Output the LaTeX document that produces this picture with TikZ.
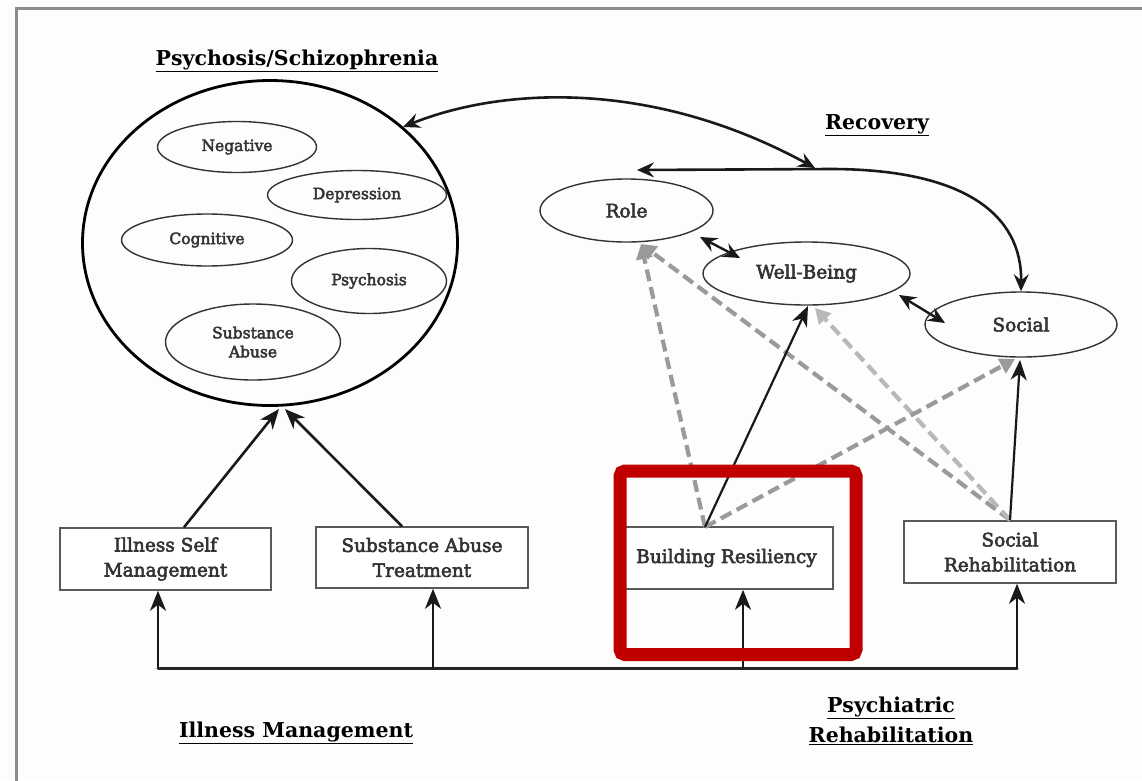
\documentclass[tikz,border=0pt]{standalone}
\usepackage{fontspec}
\setmainfont{DejaVu Serif}
\newfontfamily\labelfont[FakeBold=3]{DejaVu Serif}
\usetikzlibrary{arrows.meta,shapes.geometric,calc}

\definecolor{frame}{HTML}{8C8C8C}
\definecolor{ink}{HTML}{333333}
\definecolor{highlight}{HTML}{C00000}
\definecolor{dashmid}{HTML}{9A9A9A}
\definecolor{dashlight}{HTML}{B8B8B8}

\begin{document}
\begin{tikzpicture}[x=1pt,y=-1pt,
  oval/.style={ellipse,draw=black!80,line width=1.4pt,inner sep=0pt,
    text=ink,align=center,font=\labelfont\fontsize{18.5}{21}\selectfont},
  smalloval/.style={oval,font=\labelfont\fontsize{15.5}{19}\selectfont},
  box/.style={rectangle,draw=black!65,line width=1.5pt,fill=white,
    inner sep=0pt,text=ink,align=center,font=\labelfont\fontsize{18.5}{25}\selectfont},
  heading/.style={font=\bfseries\fontsize{20.5}{30}\selectfont,align=center},
  link/.style={draw=black!90,line width=2.6pt,-{Stealth[length=20pt,width=16pt,inset=6pt]}},
  twoway/.style={draw=black!90,line width=2.6pt,
    {Stealth[length=17pt,width=15pt,inset=6pt]}-{Stealth[length=17pt,width=15pt,inset=6pt]}},
  dlink/.style={line width=4.2pt,dash pattern=on 12pt off 6pt,
    -{Triangle[length=15pt,width=16pt]}},
]
% canvas and frame
\useasboundingbox (0,0) rectangle (1142,780);
\fill[color={rgb,255:red,253;green,253;blue,251}] (0,0) rectangle (1142,780);
\draw[frame,line width=3pt] (16,790) -- (16,8) -- (1150,8);

% illness cluster
\node[draw=black,ellipse,line width=2.8pt,minimum width=375pt,
  minimum height=325pt,inner sep=0pt] (psy) at (270,243) {};
\node[smalloval,minimum width=159pt,minimum height=51pt] (neg) at (237,147) {Negative};
\node[smalloval,minimum width=179pt,minimum height=49pt] (dep) at (357,195) {Depression};
\node[smalloval,minimum width=171pt,minimum height=52pt] (cog) at (207,240) {Cognitive};
\node[smalloval,minimum width=155pt,minimum height=65pt] (psyc) at (369,281) {Psychosis};
\node[smalloval,minimum width=175pt,minimum height=76pt] (sub) at (253,342) {Substance\\Abuse};

% recovery outcomes
\node[oval,minimum width=173pt,minimum height=63pt] (role) at (626.5,210.5) {Role};
\node[oval,minimum width=207pt,minimum height=63pt] (well) at (806.5,273.5) {Well-Being};
\node[oval,minimum width=192pt,minimum height=65pt] (soc) at (1021,324.5) {Social};

% interventions
\node[box,minimum width=211pt,minimum height=62pt] (ism) at (165.5,559) {Illness Self\\Management};
\node[box,minimum width=212pt,minimum height=61pt] (sat) at (422,557.5) {Substance Abuse\\Treatment};
\node[box,minimum width=213pt,minimum height=62pt] (br) at (726.5,558) {Building Resiliency};
\node[box,minimum width=212pt,minimum height=62pt] (sr) at (1010,552) {Social\\Rehabilitation};

% headings
\node[heading] (hpsy) at (297,61) {\underline{Psychosis/Schizophrenia}};
\node[heading] (hrec) at (877,125) {\underline{Recovery}};
\node[heading] (hill) at (296,733) {\underline{Illness Management}};
\node[heading] (hpr) at (891,721) {\underline{Psychiatric}\\\underline{Rehabilitation}};

% free ends of connectors
\coordinate (circ) at (403,127);
\coordinate (junc) at (815,168);
\coordinate (roleTip) at (637,170);
\coordinate (bend) at (830,169);
\coordinate (psyTipA) at (279,409);
\coordinate (psyTipB) at (285,409);
\coordinate (brTop) at (705,527);
\coordinate (srTop) at (1010,520);
\coordinate (roleLow) at (641,244);
\coordinate (wellLow) at (808,306);
\coordinate (wellLowB) at (815,308);
\coordinate (socLow) at (1015,359);
\coordinate (socLowB) at (1020,360);
\coordinate (b1) at (158,668);
\coordinate (b2) at (433,668);
\coordinate (b3) at (743,668);
\coordinate (b4) at (1017,668);

% recovery loop back to the illness
\draw[twoway] (circ) .. controls (500,88) and (650,78) .. (junc);
\draw[twoway] (roleTip) -- (bend) .. controls (965,169) and (1022,215) .. (soc.north);

% links between outcomes
\draw[twoway,line width=2.4pt] (700,237) -- (740,258);
\draw[twoway,line width=2.4pt] (899,295) -- (945,323);

% dashed influences
\draw[dlink,dashmid] (brTop) -- (roleLow);
\draw[dlink,dashmid] (srTop) -- (roleLow);
\draw[dlink,dashlight] (srTop) -- (wellLowB);
\draw[dlink,dashmid] (brTop) -- (socLow);

% solid influences
\draw[link,line width=2.2pt] (brTop) -- (wellLow);
\draw[link,line width=2.2pt] (srTop) -- (socLowB);
\draw[link] (ism.north -| 184,0) -- (psyTipA);
\draw[link] (sat.north -| 402,0) -- (psyTipB);

% service bus
\draw[line width=3pt,draw=black!85,line cap=round] (b1) -- (b4);
\draw[link] (b1) -- (b1 |- ism.south);
\draw[link] (b2) -- (b2 |- sat.south);
\draw[link] (b3) -- (b3 |- br.south);
\draw[link] (b4) -- (b4 |- sr.south);

% emphasis frame
\draw[highlight,line width=13pt,rounded corners=5pt] (620,471) rectangle (856,654.5);
\end{tikzpicture}
\end{document}
